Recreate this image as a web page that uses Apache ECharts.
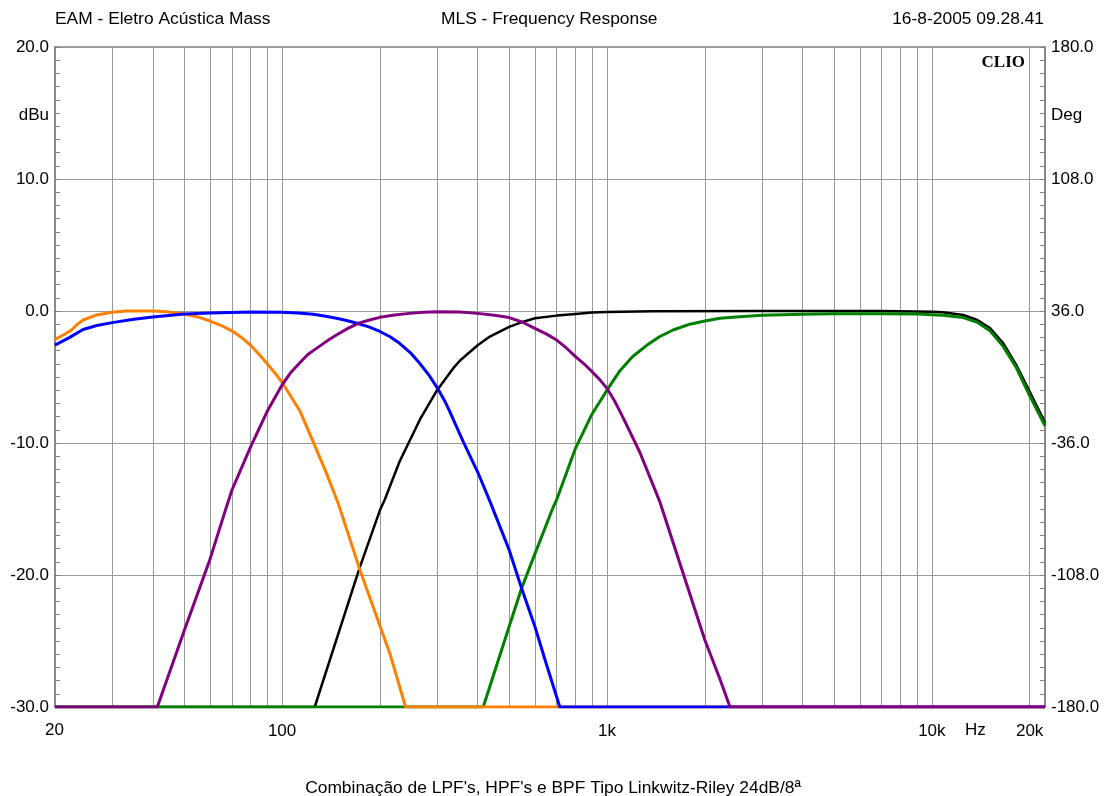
<!DOCTYPE html>
<html><head><meta charset="utf-8">
<script src="https://cdn.jsdelivr.net/npm/echarts@6/dist/echarts.min.js"></script>
<style>html,body{margin:0;padding:0;background:#fff}#c{width:1106px;height:796px}</style>
</head><body><div id="c"></div>
<script>
// ---- axis setup values ----
const X_MIN = 20, X_MAX = 22300;
const DB_MIN = -30, DB_MAX = 20, DB_STEP = 10;
const DEG_MIN = -180, DEG_MAX = 180, DEG_STEP = 72;
const gridFreqs = [30,40,50,60,70,80,90,100,200,300,400,500,600,700,800,900,1000,2000,3000,4000,5000,6000,7000,8000,9000,10000,20000];
const freqTickFreqs = [100, 1000, 10000, 20000];
const freqTickLabels = ['100', '1k', '10k', '20k'];

// ---- series values ----
const blackFreq = [20,126,173,200,207,230,266,300,336,353,400,436,500,553,600,700,800,900,1000,1388,3000,5000,7000,10000,10800,12500,13800,15100,16600,18200,20000,22100,22300];
const blackDb   = [-30,-30,-19.5,-15.1,-14.3,-11.4,-8.2,-6.0,-4.35,-3.75,-2.6,-1.94,-1.2,-0.81,-0.55,-0.35,-0.23,-0.12,-0.08,-0.02,0,0,0,-0.05,-0.1,-0.3,-0.68,-1.3,-2.45,-4.1,-6.1,-8.26,-8.5];

const greenFreq = [20,416,500,546,600,682,700,800,900,1000,1098,1200,1326,1450,1598,1800,2000,2228,2500,3000,4000,5000,7000,9000,10000,10800,12500,13800,15100,16600,18200,20000,22100,22300];
const greenDb   = [-30,-30,-23.9,-21.0,-18.4,-14.9,-14.3,-10.4,-7.8,-6.0,-4.5,-3.45,-2.6,-1.95,-1.44,-1.0,-0.76,-0.55,-0.45,-0.32,-0.25,-0.2,-0.2,-0.22,-0.28,-0.33,-0.5,-0.86,-1.5,-2.7,-4.3,-6.4,-8.5,-8.7];

const orangeFreq = [20,21.2,22.5,23.3,24.4,26.9,30,33.2,40,44.1,50,55,60,65,70,75,80,85,90,95,100,113.6,124.6,137,149,173,215,240,22300];
const orangeDb   = [-2.15,-1.82,-1.44,-1.06,-0.68,-0.3,-0.1,0,0,-0.05,-0.23,-0.45,-0.76,-1.1,-1.5,-2.0,-2.6,-3.3,-4.0,-4.7,-5.4,-7.6,-9.9,-12.3,-14.6,-19.5,-26.0,-30,-30];

const blueFreq = [20,22.2,24.4,26.9,30,35,40,50,60,80,100,112,124.6,135,147,158,170,185,200,215,230,248,266,283,300,318,328,361,400,436,500,546,600,650,716,22300];
const blueDb   = [-2.58,-2.0,-1.4,-1.1,-0.88,-0.63,-0.45,-0.23,-0.15,-0.08,-0.1,-0.15,-0.25,-0.38,-0.55,-0.72,-0.93,-1.2,-1.55,-1.95,-2.45,-3.15,-4.0,-4.85,-5.8,-6.9,-7.6,-9.9,-12.2,-14.4,-18.1,-21.0,-23.9,-26.7,-30,-30];

const purpleFreq = [20,41.3,50,60,66.7,70,80,90,100,106,113.6,120,127.6,137,147,160,173,186,200,222,247,272,300,353,400,450,500,550,600,650,700,750,800,850,900,950,1000,1060,1122,1262,1452,2000,2228,2392,22300];
const purpleDb   = [-30,-30,-24.2,-18.8,-15.2,-13.6,-10.3,-7.6,-5.6,-4.7,-3.9,-3.3,-2.83,-2.3,-1.82,-1.3,-0.9,-0.68,-0.48,-0.3,-0.18,-0.1,-0.05,-0.08,-0.18,-0.32,-0.5,-0.85,-1.31,-1.73,-2.2,-2.8,-3.46,-4.0,-4.6,-5.2,-5.86,-6.9,-8.1,-10.7,-14.4,-24.9,-27.9,-30,-30];

// ---- chart ----
const FONT = '"Liberation Sans", Arial, sans-serif';
const FS = 17;
const TFS = 17.4;
function pairs(f, d) { return f.map((x, i) => [x, d[i]]); }

const curves = [
  {name: 'black', f: blackFreq, d: blackDb, color: '#000000', width: 2.5},
  {name: 'green', f: greenFreq, d: greenDb, color: '#008000', width: 3},
  {name: 'orange', f: orangeFreq, d: orangeDb, color: '#FF8000', width: 3},
  {name: 'blue', f: blueFreq, d: blueDb, color: '#0000FF', width: 3},
  {name: 'purple', f: purpleFreq, d: purpleDb, color: '#800080', width: 3}
];

const gridLineData = gridFreqs.map(f => {
  const k = freqTickFreqs.indexOf(f);
  return {
    xAxis: f,
    label: k >= 0
      ? {show: true, formatter: freqTickLabels[k], position: 'start', distance: 16, color: '#000', fontSize: FS, fontFamily: FONT}
      : {show: false}
  };
});

const series = curves.map((c, i) => {
  const s = {
    type: 'line', name: c.name, data: pairs(c.f, c.d),
    symbol: 'none', showSymbol: false, smooth: false,
    lineStyle: {color: c.color, width: c.width, join: 'round'},
    itemStyle: {color: c.color},
    animation: false, z: 3
  };
  if (i === 0) {
    s.markLine = {
      silent: true, symbol: 'none', z: 1, animation: false,
      lineStyle: {color: '#999999', width: 1, type: 'solid'},
      label: {show: false},
      emphasis: {disabled: true},
      data: gridLineData
    };
  }
  return s;
});

const txt = {color: '#000', fontSize: TFS, fontFamily: FONT, fontWeight: 'normal'};
const lbl = {color: '#000', fontSize: FS, fontFamily: FONT, fontWeight: 'normal'};
const option = {
  animation: false,
  backgroundColor: '#ffffff',
  title: [
    {text: 'EAM - Eletro Acústica Mass', left: 55, top: 11, padding: 0, textStyle: txt},
    {text: 'MLS - Frequency Response', left: 441, top: 11, padding: 0, textStyle: txt},
    {text: '16-8-2005 09.28.41', right: 62, top: 11, padding: 0, textStyle: txt},
    {text: 'dBu', right: 1057, top: 107, padding: 0, textStyle: lbl},
    {text: 'Deg', left: 1051, top: 107, padding: 0, textStyle: lbl},
    {text: '20', left: 45, top: 722, padding: 0, textStyle: lbl},
    {text: 'Hz', left: 965, top: 722, padding: 0, textStyle: lbl},
    {text: 'CLIO', right: 81, top: 54, padding: 0, textStyle: {color: '#000', fontSize: 17, fontFamily: '"Liberation Serif", "DejaVu Serif", serif', fontWeight: 'bold'}},
    {text: "Combinação de LPF's, HPF's e BPF Tipo Linkwitz-Riley 24dB/8ª", left: 'center', top: 780, padding: 0, textStyle: txt}
  ],
  grid: {left: 55, top: 47, width: 990, height: 660, show: true, borderColor: '#808080', borderWidth: 1.5, backgroundColor: 'transparent', containLabel: false},
  xAxis: {
    type: 'log', logBase: 10, min: X_MIN, max: X_MAX,
    axisLine: {show: false}, axisTick: {show: false}, axisLabel: {show: false}, splitLine: {show: false}
  },
  yAxis: [
    {
      type: 'value', min: DB_MIN, max: DB_MAX, interval: DB_STEP, position: 'left',
      axisLine: {show: true, lineStyle: {color: '#808080', width: 1.5}},
      axisTick: {show: true, inside: true, length: 5, lineStyle: {color: '#808080'}},
      minorTick: {show: true, splitNumber: 10, length: 5, lineStyle: {color: '#808080'}},
      axisLabel: {formatter: v => v.toFixed(1), color: '#000', fontSize: FS, fontFamily: FONT, margin: 6},
      splitLine: {show: true, lineStyle: {color: '#999999', width: 1}}
    },
    {
      type: 'value', min: DEG_MIN, max: DEG_MAX, interval: DEG_STEP, position: 'right',
      axisLine: {show: true, lineStyle: {color: '#808080', width: 1.5}},
      axisTick: {show: true, inside: true, length: 5, lineStyle: {color: '#808080'}},
      minorTick: {show: true, splitNumber: 10, length: 5, lineStyle: {color: '#808080'}},
      axisLabel: {formatter: v => v.toFixed(1), color: '#000', fontSize: FS, fontFamily: FONT, margin: 6},
      splitLine: {show: false}
    }
  ],
  series: series
};

const chart = echarts.init(document.getElementById('c'), null, {renderer: 'canvas'});
chart.setOption(option);
</script>
</body></html>
